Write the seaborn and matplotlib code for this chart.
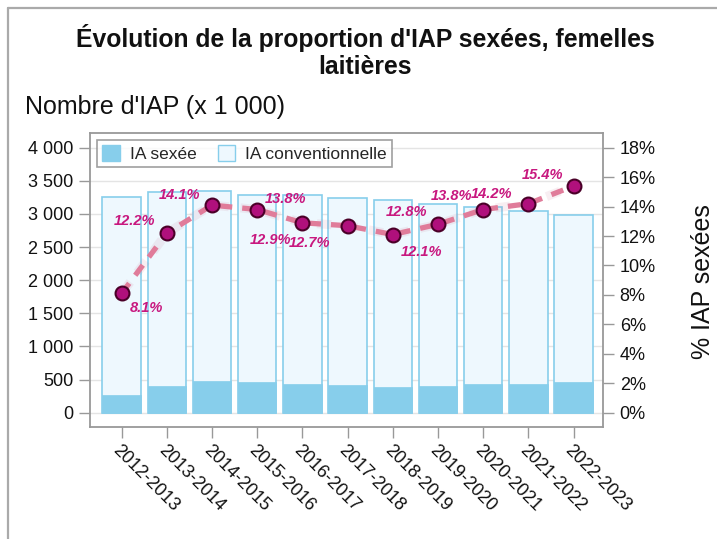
import numpy as np
import pandas as pd
import matplotlib
matplotlib.use("Agg")
import matplotlib.pyplot as plt
from matplotlib.ticker import FuncFormatter, FixedLocator
from matplotlib.patches import Patch
from matplotlib.lines import Line2D
import seaborn as sns

# ---------------- data ----------------
seasons = ["2012-2013", "2013-2014", "2014-2015", "2015-2016", "2016-2017",
           "2017-2018", "2018-2019", "2019-2020", "2020-2021", "2021-2022",
           "2022-2023"]
total_iap = [3260, 3327, 3351, 3286, 3286, 3245, 3211, 3150, 3105, 3040, 2984]   # x 1000
sexee_iap = [267, 410, 478, 458, 430, 418, 392, 406, 430, 432, 465]              # x 1000
pct_sexee = [8.1, 12.2, 14.1, 13.8, 12.9, 12.7, 12.1, 12.8, 13.8, 14.2, 15.4]    # %

# label offsets in pixels (dx, dy)
label_offsets = [(25, -15), (-32, 12), (-33, 10), (28, 11), (-32, -17), (-38, -17),
                 (29, -17), (-32, 12), (-32, 14), (-37, 10), (-31, 11)]

df = pd.DataFrame({"saison": seasons, "total": total_iap, "sexee": sexee_iap,
                   "pct": pct_sexee})

sns.set_style("white")
plt.rcParams["font.family"] = ["Liberation Sans", "DejaVu Sans"]

W, H = 717, 539
fig = plt.figure(figsize=(W / 100, H / 100), dpi=100)
ax = fig.add_axes([90 / W, 1 - 427 / H, (603 - 90) / W, (427 - 133) / H])

conv_face = "#eef8fe"
sexee_face = "#87ceeb"
edge = "#87ceeb"

sns.barplot(data=df, x="saison", y="total", ax=ax, color=conv_face,
            edgecolor=edge, linewidth=1.2, width=0.85, saturation=1, zorder=2)
sns.barplot(data=df, x="saison", y="sexee", ax=ax, color=sexee_face,
            edgecolor=sexee_face, linewidth=0.5, width=0.85, saturation=1, zorder=3)

ax.set_xlim(-0.7, 10.65)
ax.set_ylim(-216, 4222)
ax.yaxis.set_major_locator(FixedLocator(np.arange(0, 4001, 500)))
ax.yaxis.set_major_formatter(FuncFormatter(lambda v, p: f"{v:,.0f}".replace(",", " ")))
ax.grid(axis="y", color="#e4e4e4", linewidth=1, zorder=0)
ax.set_axisbelow(True)
ax.set_xlabel("")
ax.set_ylabel("")

for s in ax.spines.values():
    s.set_color("#999999")
    s.set_linewidth(1.3)

ax.tick_params(axis="y", which="both", left=True, length=8, width=1, color="#999999",
               labelsize=13, pad=4, labelcolor="#111111")
ax.tick_params(axis="x", bottom=True, length=8, width=1, color="#999999",
               labelsize=13, pad=3, labelcolor="#111111")
for lab in ax.get_xticklabels():
    lab.set_rotation(-45)
    lab.set_ha("left")
    lab.set_va("top")
    lab.set_rotation_mode("anchor")

# ---------------- secondary axis ----------------
ax2 = ax.twinx()
ax2.set_ylim(-216 / 4000 * 18, 4222 / 4000 * 18)
ax2.yaxis.set_major_locator(FixedLocator(np.arange(0, 19, 2)))
ax2.yaxis.set_major_formatter(FuncFormatter(lambda v, p: f"{v:.0f}%"))
ax2.tick_params(axis="y", right=True, length=8, width=1, color="#999999",
                labelsize=13, pad=4, labelcolor="#111111")
for s in ax2.spines.values():
    s.set_visible(False)
ax2.grid(False)

xpos = np.arange(len(seasons))
# soft shadow of the dashed line
ax2.plot(xpos, df["pct"], color="#c06080", linewidth=6.5, alpha=0.10,
         linestyle=(0, (1.6, 1.3)), zorder=4)
sns.lineplot(x=xpos, y=df["pct"], ax=ax2, color="#e07c9a", linewidth=3.8,
             linestyle=(0, (2.4, 1.9)), zorder=5)
sns.scatterplot(x=xpos, y=df["pct"], ax=ax2, s=100, color="#b0107c",
                edgecolor="#4a0028", linewidth=1.5, zorder=6)
ax2.set_ylabel("")

for i, (v, (dx, dy)) in enumerate(zip(pct_sexee, label_offsets)):
    ax2.annotate(f"{v:.1f}%", (xpos[i], v), xytext=(dx, dy),
                 textcoords="offset pixels", ha="center", va="center",
                 fontsize=10.5, fontweight="bold", fontstyle="italic",
                 color="#c8187f", zorder=7)

# ---------------- legend ----------------
handles = [Patch(facecolor=sexee_face, edgecolor=sexee_face, label="IA sexée"),
           Patch(facecolor=conv_face, edgecolor=edge, label="IA conventionnelle")]
leg = ax.legend(handles=handles, loc="upper left", ncol=2, fontsize=12.5,
                frameon=True, fancybox=False, edgecolor="#888888",
                borderaxespad=0.4, handlelength=1.0, handleheight=1.0,
                columnspacing=1.2, handletextpad=0.6, borderpad=0.3)
leg.get_frame().set_linewidth(1.2)
leg.set_zorder(10)

# ---------------- texts ----------------
fig.text(365 / W, 1 - 38 / H, "Évolution de la proportion d'IAP sexées, femelles",
         ha="center", va="center", fontsize=17.8, fontweight="bold", color="#111111")
fig.text(365 / W, 1 - 67 / H, "laitières",
         ha="center", va="center", fontsize=17.8, fontweight="bold", color="#111111")
fig.text(25 / W, 1 - 107 / H, "Nombre d'IAP (x 1 000)", ha="left", va="center",
         fontsize=18, color="#111111")
fig.text(703 / W, 1 - 282 / H, "% IAP sexées", ha="center", va="center",
         rotation=90, fontsize=18, color="#111111")

# figure border (left and top)
fig.add_artist(Line2D([8 / W, 8 / W], [0, 1 - 8 / H], color="#aaaaaa", linewidth=1.6))
fig.add_artist(Line2D([8 / W, 1], [1 - 8 / H, 1 - 8 / H], color="#aaaaaa", linewidth=1.6))

fig.savefig("out.png", dpi=100)
